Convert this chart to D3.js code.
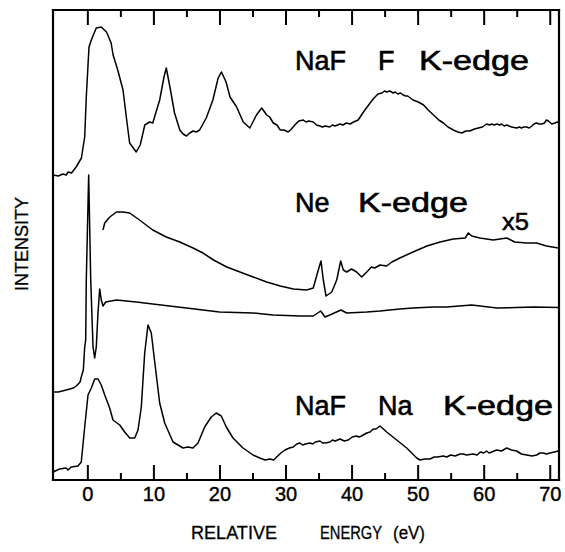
<!DOCTYPE html>
<html><head><meta charset="utf-8">
<script src="https://cdn.jsdelivr.net/npm/d3@7/dist/d3.min.js"></script>
<style>
body{margin:0;background:#fff}
svg{display:block}
text{font-family:"Liberation Sans",Arial,sans-serif;fill:#000}
</style>
</head><body>
<svg id="chart" width="565" height="552"></svg>
<script>
// ---- data (energy eV, intensity arb. units) ----
const nafFKedge = [[-5.2,30.5],[-4.4,30.4],[-3.7,30.6],[-3.2,30.5],[-2.9,30.8],[-2.4,30.7],[-1.7,31.3],[-0.9,32.2],[-0.4,34.3],[-0.16,38.3],[0.25,43.3],[0.6,44.0],[1.35,45.2],[2.1,45.3],[2.9,44.8],[3.6,43.7],[3.9,42.5],[4.6,41.0],[5.4,39.0],[5.9,36.3],[6.4,33.7],[7.4,32.8],[8.0,33.5],[8.7,35.5],[9.4,35.8],[9.9,35.7],[10.95,38.0],[11.6,40.3],[11.95,41.2],[12.5,39.3],[13.2,36.7],[14.0,35.0],[14.5,34.6],[15.0,34.4],[15.5,34.7],[16.0,34.9],[16.5,34.8],[17.0,35.0],[18.0,36.2],[19.0,38.0],[19.8,40.2],[20.3,40.8],[21.0,39.8],[21.6,38.3],[22.6,37.3],[23.6,35.8],[24.6,35.2],[25.6,36.5],[26.4,37.2],[27.15,36.5],[27.6,36.3],[28.15,35.7],[28.7,35.5],[29.2,35.0],[29.8,35.0],[30.4,34.8],[30.9,35.1],[31.4,35.5],[32.0,35.9],[32.7,36.0],[33.1,35.8],[33.5,35.9],[34.2,35.8],[34.7,35.5],[35.2,35.4],[35.6,35.3],[36.0,35.4],[36.7,35.3],[37.1,35.5],[37.5,35.4],[38.25,35.6],[38.7,35.5],[39.2,35.7],[39.8,35.6],[40.3,35.8],[41.0,36.0],[41.8,36.8],[42.8,37.7],[43.4,38.2],[44.0,38.6],[44.6,38.7],[45.0,38.9],[45.3,38.8],[45.8,38.9],[46.3,38.7],[46.6,38.8],[47.0,38.6],[47.4,38.7],[47.8,38.5],[48.2,38.4],[48.5,38.4],[49.3,38.0],[50.1,37.8],[50.9,37.5],[51.6,37.0],[52.4,36.5],[53.2,36.0],[53.9,35.7],[54.6,35.3],[55.4,35.0],[56.1,34.8],[56.7,34.7],[57.3,34.9],[57.9,34.9],[58.6,35.1],[59.2,35.2],[59.8,35.3],[60.45,35.6],[60.9,35.5],[61.2,35.6],[61.6,35.5],[62.0,35.6],[62.4,35.5],[62.7,35.6],[63.1,35.4],[63.5,35.5],[64.2,35.3],[65.0,35.2],[65.4,35.3],[65.7,35.2],[66.1,35.3],[66.5,35.3],[66.9,35.2],[67.3,35.4],[67.6,35.6],[68.0,35.7],[68.4,35.6],[68.8,35.6],[69.2,35.7],[69.5,36.0],[69.8,35.9],[70.3,35.6],[70.8,35.7],[71.1,35.8],[71.4,35.7]];

const neKedgeX5 = [[2.37,25.0],[2.63,25.7],[3.4,26.3],[4.4,26.8],[5.4,26.8],[6.4,26.7],[7.9,26.0],[9.9,25.0],[11.95,24.3],[14.0,23.8],[16.0,23.2],[17.5,22.7],[19.1,22.0],[21.1,21.3],[23.1,20.8],[25.1,20.3],[27.15,19.8],[29.2,19.4],[31.2,19.1],[33.2,19.0],[34.2,19.2],[34.96,21.0],[35.37,21.9],[35.72,20.0],[36.13,18.4],[37.0,18.8],[37.75,20.0],[38.35,21.9],[38.75,21.0],[39.26,20.8],[40.0,21.1],[40.77,20.8],[41.53,20.3],[42.3,20.8],[43.0,21.3],[43.5,21.2],[44.3,21.5],[45.3,21.4],[46.1,21.8],[47.3,22.2],[49.3,22.8],[51.4,23.4],[53.4,23.8],[55.4,24.1],[57.2,24.2],[57.67,24.7],[58.2,24.4],[59.4,24.2],[61.45,24.0],[63.5,24.2],[64.7,23.8],[66.5,23.7],[68.0,23.7],[69.5,23.4],[71.3,23.2]];

const neKedge = [[-5.2,8.8],[-4.4,8.8],[-3.2,9.0],[-2.1,9.2],[-1.67,9.4],[-1.1,9.8],[-0.92,10.3],[-0.61,11.0],[-0.4,13.3],[-0.25,14.0],[-0.16,20.0],[0.2,30.5],[0.51,20.0],[0.86,13.3],[1.11,12.2],[1.35,13.3],[1.61,16.7],[1.87,19.1],[2.11,18.0],[2.37,17.4],[2.78,17.8],[4.4,18.0],[7.4,17.8],[9.9,17.6],[15.0,17.2],[20.0,16.8],[25.1,16.7],[28.1,16.5],[32.2,16.4],[34.2,16.4],[35.32,16.9],[35.97,16.3],[36.7,16.5],[38.4,17.0],[39.26,16.7],[42.3,16.8],[44.3,16.9],[47.3,17.1],[49.3,17.2],[52.4,17.3],[54.4,17.3],[58.2,17.5],[62.0,17.2],[67.5,17.3],[71.4,17.25]];

const nafNaKedge = [[-5.2,0.8],[-4.2,1.1],[-3.2,1.2],[-2.93,1.0],[-2.43,1.3],[-1.42,1.4],[-0.92,1.8],[-0.4,5.3],[0.1,8.5],[0.6,9.2],[1.11,10.1],[1.61,10.1],[2.11,9.5],[2.63,8.5],[3.38,7.2],[3.88,6.0],[4.9,5.5],[5.65,4.8],[6.41,4.2],[7.17,4.2],[7.67,5.0],[8.17,7.3],[8.68,12.7],[9.18,15.5],[9.68,14.7],[10.2,11.8],[10.95,7.7],[11.71,5.7],[12.97,3.8],[14.48,3.2],[15.2,3.3],[15.99,3.2],[16.75,3.7],[17.76,5.3],[18.76,6.3],[19.52,6.7],[20.28,6.4],[21.03,5.3],[22.05,4.2],[23.56,3.2],[25.08,2.5],[26.09,2.2],[26.9,2.0],[27.65,2.1],[28.2,2.0],[28.66,2.3],[29.3,2.7],[29.92,3.0],[30.6,3.2],[31.18,3.3],[31.7,3.6],[32.19,3.7],[32.6,3.5],[33.0,3.6],[33.7,3.7],[34.1,3.6],[34.5,3.8],[35.22,3.9],[35.6,3.7],[36.0,3.7],[36.73,3.8],[37.1,4.0],[37.5,3.9],[38.25,4.1],[38.9,3.9],[39.5,4.0],[40.1,4.3],[40.77,4.4],[41.1,4.3],[41.5,4.4],[42.29,4.7],[42.8,4.8],[43.29,5.1],[43.7,5.1],[44.3,5.4],[45.31,4.8],[46.83,4.0],[48.34,3.2],[49.86,2.2],[50.36,2.0],[51.1,2.1],[51.87,2.1],[52.5,2.3],[53.0,2.3],[53.88,2.4],[54.4,2.3],[55.0,2.5],[55.7,2.4],[56.41,2.6],[56.9,2.6],[57.4,2.5],[58.42,2.6],[59.0,2.5],[59.5,2.8],[60.0,2.7],[60.45,2.9],[60.8,2.7],[61.2,2.8],[61.97,3.0],[62.7,2.9],[63.48,3.2],[64.2,3.0],[64.99,2.9],[65.7,2.6],[66.51,2.5],[67.3,2.4],[68.02,2.5],[68.5,2.7],[69.02,2.7],[69.5,2.6],[70.04,2.7],[70.7,2.8],[71.3,2.9]];

const series = [nafFKedge, neKedgeX5, neKedge, nafNaKedge];
const majorTicks = [0,10,20,30,40,50,60,70];
const minorTicks = [5,15,25,35,45,55,65];
const xTitleWords = ["RELATIVE","ENERGY","(eV)"];
const yTitle = "INTENSITY";
const curveLabels = [
  {words:["NaF","F","K-edge"], xs:[295,378,419], base:70},
  {words:["Ne","K-edge"], xs:[295,358], base:212},
  {words:["NaF","Na","K-edge"], xs:[295,378,443], base:415}
];
const scaleNote = "x5";

// ---- layout ----
const svg = d3.select("#chart");
const L = 53, R = 559, T = 10, B = 480;
const x = d3.scaleLinear().domain([-5.2, 71.4]).range([L, R]);
const y = d3.scaleLinear().domain([0, 47]).range([B, T]);

// frame first (as plain lines)
const frame = [[L,T,R,T],[R,T,R,B],[R,B,L,B],[L,B,L,T]];
svg.append("g").attr("class","frame").selectAll("line").data(frame).join("line")
  .attr("x1",d=>d[0]).attr("y1",d=>d[1]).attr("x2",d=>d[2]).attr("y2",d=>d[3])
  .attr("stroke","#000").attr("stroke-width",2.2).attr("stroke-linecap","square");

const line = d3.line().x(d => x(d[0])).y(d => y(d[1]));
svg.append("g").selectAll("path").data(series).join("path")
  .attr("d", line).attr("fill","none").attr("stroke","#000")
  .attr("stroke-width",1.5).attr("stroke-linejoin","round");

// ticks inward on top and bottom
function styleAxis(g){ g.select(".domain").remove(); g.selectAll("line").attr("stroke","#000").attr("stroke-width",2); g.selectAll("text").filter(function(){return this.textContent==="";}).remove(); }
const bottomMajor = svg.append("g").attr("transform",`translate(0,${B})`)
  .call(d3.axisBottom(x).tickValues(majorTicks).tickSize(-15).tickPadding(7).tickFormat(d3.format("d")))
  .call(styleAxis);
bottomMajor.selectAll("text").attr("font-size",20).attr("font-family","Liberation Sans, Arial, sans-serif")
  .attr("stroke","#000").attr("stroke-width",0.4);
svg.append("g").attr("transform",`translate(0,${B})`)
  .call(d3.axisBottom(x).tickValues(minorTicks).tickSize(-7).tickFormat(""))
  .call(styleAxis);
svg.append("g").attr("transform",`translate(0,${T})`)
  .call(d3.axisTop(x).tickValues(majorTicks).tickSize(-15).tickFormat(""))
  .call(styleAxis);
svg.append("g").attr("transform",`translate(0,${T})`)
  .call(d3.axisTop(x).tickValues(minorTicks).tickSize(-7).tickFormat(""))
  .call(styleAxis);

// curve labels
curveLabels.forEach(c => {
  c.words.forEach((w,i) => {
    const t = svg.append("text").attr("x",c.xs[i]).attr("y",c.base).attr("font-size",27)
      .attr("stroke","#000").attr("stroke-width",0.6).text(w);
    if (w === "K-edge") t.attr("textLength",110).attr("lengthAdjust","spacingAndGlyphs");
  });
});
svg.append("text").attr("x",502).attr("y",230).attr("font-size",23)
  .attr("stroke","#000").attr("stroke-width",0.5)
  .attr("textLength",27).attr("lengthAdjust","spacingAndGlyphs").text(scaleNote);

// axis titles
const titleXs = [191,320,393], titleLens = [86,62,32];
xTitleWords.forEach((w,i) => svg.append("text").attr("x",titleXs[i]).attr("y",539).attr("font-size",18)
  .attr("stroke","#000").attr("stroke-width",0.3)
  .attr("textLength",titleLens[i]).attr("lengthAdjust","spacingAndGlyphs").text(w));
svg.append("text").attr("transform","translate(28,244) rotate(-90)")
  .attr("text-anchor","middle").attr("font-size",18)
  .attr("stroke","#000").attr("stroke-width",0.3).text(yTitle);
</script>
</body></html>
